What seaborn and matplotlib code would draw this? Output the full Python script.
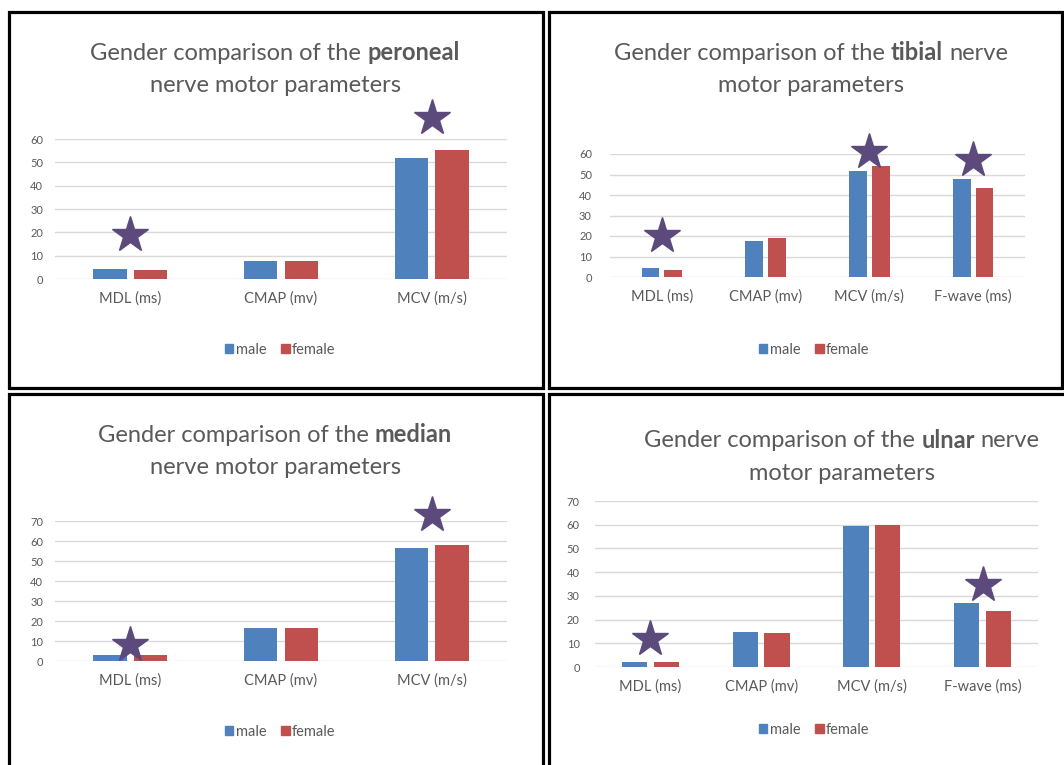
import matplotlib
matplotlib.use('Agg')
import matplotlib.pyplot as plt
import seaborn as sns
import pandas as pd
from matplotlib.patches import Rectangle, Patch

# ---- data ----
cats3 = ["MDL (ms)", "CMAP (mv)", "MCV (m/s)"]
cats4 = ["MDL (ms)", "CMAP (mv)", "MCV (m/s)", "F-wave (ms)"]

peroneal_male = [4.4, 7.9, 51.9]
peroneal_female = [3.7, 7.9, 55.3]
peroneal_star_cats = ["MDL (ms)", "MCV (m/s)"]
peroneal_star_vals = [19.0, 69.0]

tibial_male = [4.2, 17.4, 51.9, 47.8]
tibial_female = [3.3, 19.0, 54.3, 43.3]
tibial_star_cats = ["MDL (ms)", "MCV (m/s)", "F-wave (ms)"]
tibial_star_vals = [19.8, 60.8, 57.2]

median_male = [3.0, 16.5, 56.4]
median_female = [3.0, 16.5, 58.2]
median_star_cats = ["MDL (ms)", "MCV (m/s)"]
median_star_vals = [8.1, 73.0]

ulnar_male = [2.1, 14.9, 59.6, 27.1]
ulnar_female = [2.1, 14.2, 60.0, 23.7]
ulnar_star_cats = ["MDL (ms)", "F-wave (ms)"]
ulnar_star_vals = [11.8, 34.5]

sexes = ["male", "female"]

MALE_COLOR = '#4F81BD'
FEMALE_COLOR = '#C0504D'
STAR_COLOR = '#5C4A7D'
TEXT_COLOR = '#595959'
GRID_COLOR = '#D9D9D9'

sns.set_theme(style="white")
plt.rcParams['font.family'] = ['Lato', 'DejaVu Sans']

W, H = 1064, 765
fig = plt.figure(figsize=(W / 100, H / 100), dpi=100)


def px_rect(x0, y0, x1, y1):
    # pixel box (top-left origin) -> figure fraction rect
    return [x0 / W, 1 - y1 / H, (x1 - x0) / W, (y1 - y0) / H]


def draw_panel(rect, cats, male, female, star_cats, star_vals, ymax, width, gap, ypad):
    ax = fig.add_axes(rect)
    df = pd.DataFrame({
        'param': cats + cats,
        'value': male + female,
        'sex': [sexes[0]] * len(cats) + [sexes[1]] * len(cats),
    })
    sns.barplot(data=df, x='param', y='value', hue='sex', hue_order=sexes,
                palette=[MALE_COLOR, FEMALE_COLOR], saturation=1,
                width=width, gap=gap, linewidth=0, legend=False, ax=ax)
    ax.set_ylim(0, ymax)
    ax.set_xlim(-0.5, len(cats) - 0.5)
    ax.set_yticks(range(0, ymax + 1, 10))
    ax.yaxis.grid(True, color=GRID_COLOR, lw=1)
    ax.set_axisbelow(True)
    for s in ax.spines.values():
        s.set_visible(False)
    ax.set_xlabel('')
    ax.set_ylabel('')
    ax.tick_params(axis='y', length=0, labelsize=8, colors=TEXT_COLOR, pad=ypad)
    ax.tick_params(axis='x', length=0, labelsize=10.5, colors=TEXT_COLOR, pad=9)
    idx = [cats.index(c) for c in star_cats]
    ax.plot(idx, star_vals, marker='*', ls='none', ms=27, color=STAR_COLOR,
            clip_on=False, zorder=5)
    return ax


def put_title(xc, y, parts, size=17):
    r = fig.canvas.get_renderer()
    a = fig.text(0, 0, 'a a', fontsize=size)
    b = fig.text(0, 0, 'aa', fontsize=size)
    space = a.get_window_extent(r).width - b.get_window_extent(r).width
    a.remove()
    b.remove()
    texts = [fig.text(0, y, s, fontsize=size, fontweight=wt, color=TEXT_COLOR,
                      va='center', ha='left') for s, wt in parts]
    widths = [t.get_window_extent(r).width for t in texts]
    total = sum(widths) + space * (len(texts) - 1)
    x = xc - total / 2
    for t, w in zip(texts, widths):
        t.set_x(x / W)
        x += w + space


def put_legend(xc, y):
    handles = [Patch(color=MALE_COLOR), Patch(color=FEMALE_COLOR)]
    fig.legend(handles, sexes, loc='center', bbox_to_anchor=(xc / W, 1 - y / H),
               ncol=2, frameon=False, handlelength=0.6, handleheight=0.6,
               handletextpad=0.15, columnspacing=1.0, fontsize=10.5,
               labelcolor=TEXT_COLOR)


# panel frames
for box in [(9, 12, 543, 388), (549, 12, 1062, 388),
            (9, 394, 543, 775), (549, 394, 1070, 775)]:
    fig.patches.append(Rectangle(px_rect(*box)[:2], *px_rect(*box)[2:],
                                 transform=fig.transFigure, fill=False,
                                 lw=2.3, ec='black'))

draw_panel(px_rect(55, 139, 507, 279), cats3, peroneal_male, peroneal_female,
           peroneal_star_cats, peroneal_star_vals, 60, 0.54, 0.18, 8.5)
draw_panel(px_rect(610, 154, 1025, 277), cats4, tibial_male, tibial_female,
           tibial_star_cats, tibial_star_vals, 60, 0.44, 0.23, 13)
draw_panel(px_rect(55, 521, 507, 661), cats3, median_male, median_female,
           median_star_cats, median_star_vals, 70, 0.54, 0.18, 8.5)
draw_panel(px_rect(595, 501, 1038, 667), cats4, ulnar_male, ulnar_female,
           ulnar_star_cats, ulnar_star_vals, 70, 0.57, 0.2, 11)

put_title(275, 1 - 53 / H, [("Gender comparison of the", 'normal'), ("peroneal", 'bold')])
put_title(275, 1 - 85 / H, [("nerve motor parameters", 'normal')])
put_title(811, 1 - 53 / H, [("Gender comparison of the", 'normal'), ("tibial", 'bold'), ("nerve", 'normal')])
put_title(811, 1 - 85 / H, [("motor parameters", 'normal')])
put_title(275, 1 - 435 / H, [("Gender comparison of the", 'normal'), ("median", 'bold')])
put_title(275, 1 - 467 / H, [("nerve motor parameters", 'normal')])
put_title(842, 1 - 441 / H, [("Gender comparison of the", 'normal'), ("ulnar", 'bold'), ("nerve", 'normal')])
put_title(842, 1 - 473 / H, [("motor parameters", 'normal')])

put_legend(280, 350)
put_legend(814, 350)
put_legend(280, 732)
put_legend(814, 730)

fig.savefig('out.png', dpi=100)
